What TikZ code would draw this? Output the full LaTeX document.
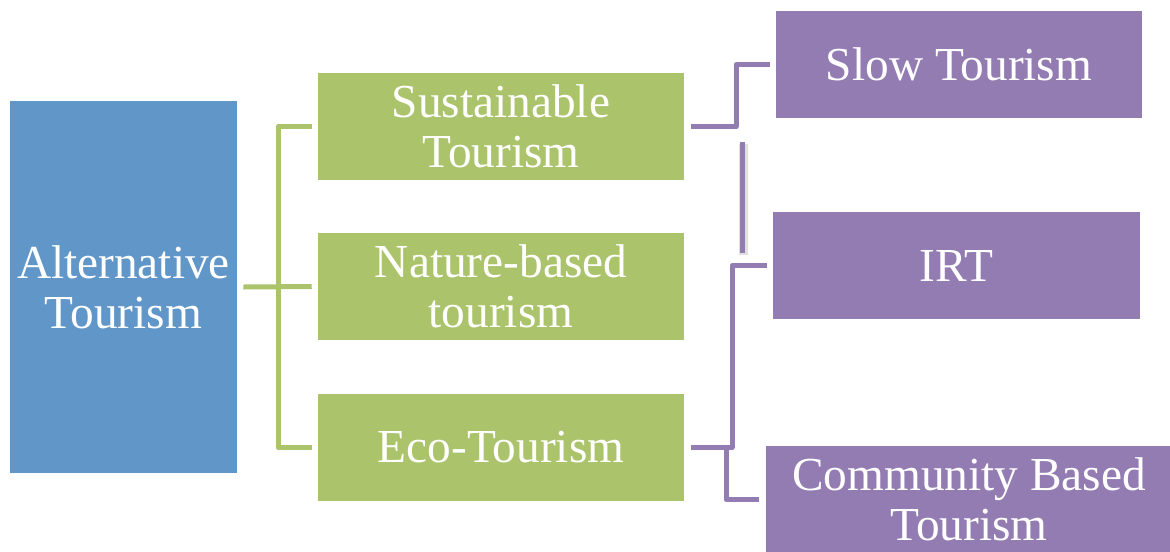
\documentclass[tikz,border=0pt]{standalone}
\usepackage{fontspec}
\setmainfont{Liberation Serif}
\usetikzlibrary{calc}
\definecolor{cblue}{RGB}{96,150,200}
\definecolor{cgreen}{RGB}{171,196,108}
\definecolor{cpurple}{RGB}{147,124,178}
\begin{document}
\begin{tikzpicture}[x=0.75pt,y=-0.75pt,
  box/.style={draw=none, inner sep=0pt, text=white, align=center,
    font=\fontsize{35.5}{37.5}\selectfont},
  bluebox/.style={box, fill=cblue},
  greenbox/.style={box, fill=cgreen, minimum width={366*0.75pt}, minimum height={107*0.75pt}},
  purplebox/.style={box, fill=cpurple, minimum height={107*0.75pt}},
  gline/.style={draw=cgreen, line width=3.75pt, line join=round},
  pline/.style={draw=cpurple, line width=3.75pt, line join=round},
  shadowline/.style={draw=black!12, line width=7pt}
]
\useasboundingbox (0,0) rectangle (1170,551);
\clip (0,0) rectangle (1170,551);

\node[bluebox, minimum width={227*0.75pt}, minimum height={372*0.75pt}] (alt) at (123.5,287) {Alternative\\Tourism};
\node[greenbox] (sus) at (501,126.5) {Sustainable\\Tourism};
\node[greenbox] (nat) at (501,286.5) {Nature-based\\tourism};
\node[greenbox] (eco) at (501,447.5) {Eco-Tourism};
\node[purplebox, minimum width={366*0.75pt}] (slow) at (959,64.5) {Slow Tourism};
\node[purplebox, minimum width={367*0.75pt}] (irt) at (956.5,265.5) {IRT};
\node[purplebox, minimum width={406*0.75pt}] (cbt) at (969,499.5) {Community Based\\Tourism};

% green connectors
\coordinate (gj) at (278,287);
\draw[gline] ($(alt.east)+(6,0)$) -- ($(nat.west)+(-6,0)$);
\draw[gline] ($(sus.west)+(-6,0)$) -| (gj) |- ($(eco.west)+(-6,0)$);

% purple connectors
\coordinate (pj1) at (736,95);
\coordinate (pj2) at (732,350);
\coordinate (pj3) at (726,470);
\draw[pline] ($(sus.east)+(7,0)$) -| (pj1) |- ($(slow.west)+(-6,0)$);
\draw[pline] ($(eco.east)+(7,0)$) -| (pj2) |- ($(irt.west)+(-6,0)$);
\draw[pline] ($(eco.east)+(7,0)$) -| (pj3) |- ($(cbt.west)+(-7,0)$);

% isolated vertical segment
\coordinate (va) at (742,142);
\coordinate (vb) at (742,253);
\draw[shadowline] ($(va)+(1.5,1.5)$) -- ($(vb)+(1.5,1.5)$);
\draw[pline] (va) -- (vb);
\end{tikzpicture}
\end{document}
